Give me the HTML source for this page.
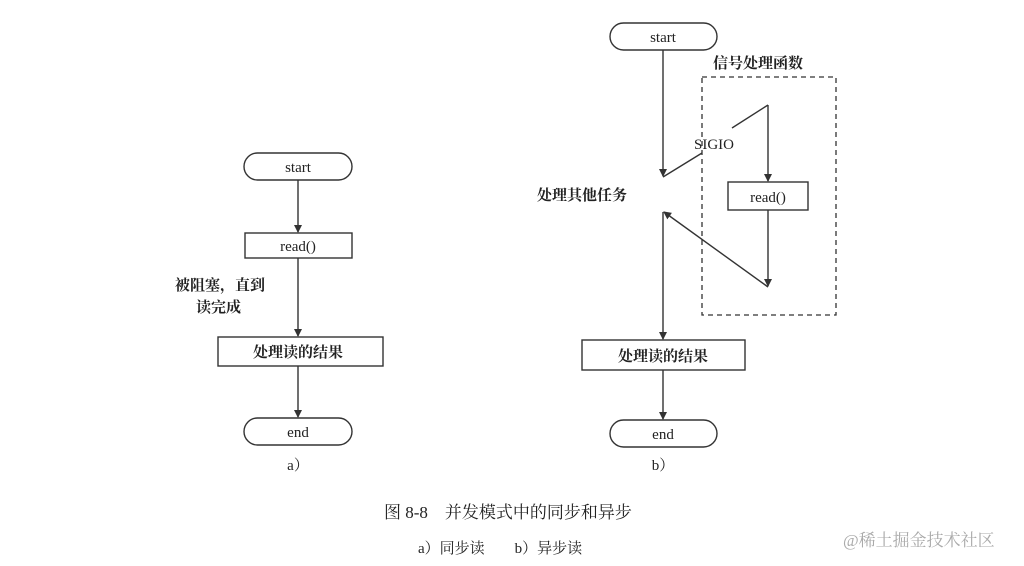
<!DOCTYPE html>
<html><head><meta charset="utf-8"><style>
html,body{margin:0;padding:0;background:#fff;}
svg{display:block}
text{font-family:"Liberation Serif","Noto Serif CJK SC",serif;fill:#222}
.b{font-weight:bold}
</style></head><body>
<svg width="1024" height="566" viewBox="0 0 1024 566" xmlns="http://www.w3.org/2000/svg">
<defs>
<marker id="ar" markerWidth="8" markerHeight="10" refX="7" refY="5" orient="auto" markerUnits="userSpaceOnUse">
<path d="M0,1 L8,5 L0,9 Z" fill="#333"/></marker>
</defs>
<g stroke="#333" stroke-width="1.4" fill="none">
<!-- left -->
<rect x="244" y="153" width="108" height="27" rx="13.5"/>
<line x1="298" y1="180" x2="298" y2="232" marker-end="url(#ar)"/>
<rect x="245" y="233" width="107" height="25"/>
<line x1="298" y1="258" x2="298" y2="336" marker-end="url(#ar)"/>
<rect x="218" y="337" width="165" height="29"/>
<line x1="298" y1="366" x2="298" y2="417" marker-end="url(#ar)"/>
<rect x="244" y="418" width="108" height="27" rx="13.5"/>
<!-- right -->
<rect x="610" y="23" width="107" height="27" rx="13.5"/>
<line x1="663" y1="50" x2="663" y2="176" marker-end="url(#ar)"/>
<line x1="663" y1="177" x2="702" y2="153"/>
<line x1="732" y1="128" x2="768" y2="105"/>
<line x1="768" y1="105" x2="768" y2="181" marker-end="url(#ar)"/>
<rect x="728" y="182" width="80" height="28"/>
<line x1="768" y1="210" x2="768" y2="286" marker-end="url(#ar)"/>
<line x1="768" y1="287" x2="664" y2="212" marker-end="url(#ar)"/>
<line x1="663" y1="212" x2="663" y2="339" marker-end="url(#ar)"/>
<rect x="702" y="77" width="134" height="238" stroke-dasharray="5,4" stroke-width="1.3"/>
<rect x="582" y="340" width="163" height="30"/>
<line x1="663" y1="370" x2="663" y2="419" marker-end="url(#ar)"/>
<rect x="610" y="420" width="107" height="27" rx="13.5"/>
</g>
<g font-size="15" text-anchor="middle">
<text x="298" y="172">start</text>
<text x="298" y="251">read()</text>
<text x="298" y="357" class="b">处理读的结果</text>
<text x="298" y="437">end</text>
<text x="298" y="470">a）</text>
<text x="663" y="42">start</text>
<text x="768" y="202">read()</text>
<text x="663" y="361" class="b">处理读的结果</text>
<text x="663" y="439">end</text>
<text x="663" y="470">b）</text>
</g>
<g font-size="15">
<text x="175" y="290" class="b">被阻塞，直到</text>
<text x="196" y="312" class="b">读完成</text>
<text x="537" y="200" class="b">处理其他任务</text>
<text x="713" y="68" class="b">信号处理函数</text>
<text x="694" y="149">SIGIO</text>
<text x="384" y="518" font-size="17">图 8-8　并发模式中的同步和异步</text>
<text x="418" y="553" font-size="15">a）同步读　　b）异步读</text>
<text x="843" y="546" font-size="17" style="fill:#aaa">@稀土掘金技术社区</text>
</g>
</svg>
</body></html>
